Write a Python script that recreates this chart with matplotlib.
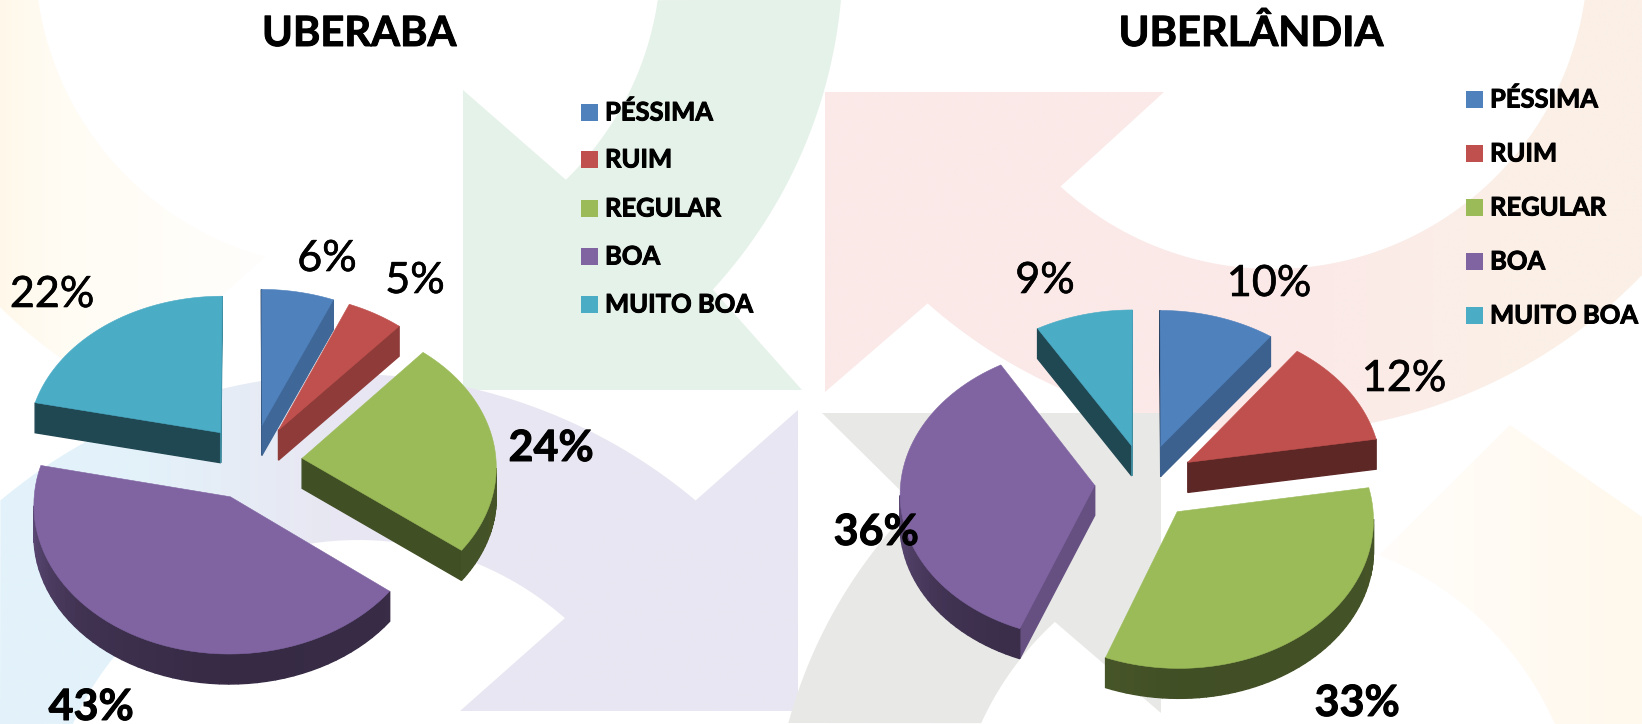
import numpy as np
import matplotlib
matplotlib.use('Agg')
import matplotlib.pyplot as plt
import matplotlib.patheffects as pe
from matplotlib.patches import Polygon, Rectangle
from matplotlib.colors import to_rgb

plt.rcParams['font.family'] = ['Lato', 'DejaVu Sans']

# data, the slices are a little finer than the rounded labels
categories = ['PÉSSIMA', 'RUIM', 'REGULAR', 'BOA', 'MUITO BOA']
uberaba = [6.4, 5.0, 24.1, 42.9, 21.6]
uberlandia = [10.2, 12.2, 33.4, 35.6, 8.6]
colors = ['#4f81bd', '#c0504d', '#9bbb59', '#8064a2', '#4bacc6']

# pie geometry, pixels of the 1642x724 image
RX = 194
RY = 146
PERSP = 0.049
EXPLODE = 0.26
DEPTH = 30

fig = plt.figure(figsize=(16.42, 7.24), dpi=100)
ax = fig.add_axes([0, 0, 1, 1])
heavy = [pe.withStroke(linewidth=0.7, foreground='black')]
medium = [pe.withStroke(linewidth=0.45, foreground='black')]


def ring(cx, cy, r, p0, p1, n=80):
    # circle arc between the angles of two points near the circle
    a0 = np.arctan2(p0[1] - cy, p0[0] - cx)
    a1 = np.arctan2(p1[1] - cy, p1[0] - cx)
    if a1 - a0 > np.pi:
        a1 -= 2 * np.pi
    if a0 - a1 > np.pi:
        a1 += 2 * np.pi
    t = np.linspace(a0, a1, n)
    return list(zip(cx + r * np.cos(t), cy + r * np.sin(t)))


def flat(verts, color):
    ax.add_patch(Polygon(verts, closed=True, fc=color, ec='none', zorder=0.5))


def gradient(verts, xs, cols):
    # horizontal colour ramp clipped to a polygon
    verts = np.array(verts)
    x0, x1 = verts[:, 0].min(), verts[:, 0].max()
    y0, y1 = verts[:, 1].min(), verts[:, 1].max()
    grid = np.linspace(x0, x1, 300)
    rgb = np.array([to_rgb(c) for c in cols])
    img = np.stack([np.interp(grid, xs, rgb[:, i]) for i in range(3)], axis=1)[None, :, :]
    im = ax.imshow(img, extent=(x0, x1, y1, y0), aspect='auto', zorder=0.5, interpolation='bilinear')
    im.set_clip_path(Polygon(verts, closed=True, transform=ax.transData))


def background():
    # green
    flat([(463, 90)]
         + ring(348, -45, 313, (568, 182), (657, 0))
         + ring(348, -45, 495, (843, 0), (710, 287))
         + [(802, 390), (463, 390)], '#e5f2e9')
    # pink to orange band
    band = ([(825, 92), (1164, 92)]
            + ring(1273, -46, 315, (1061, 186), (1585, 0))
            + [(1642, 0)]
            + ring(1270, -84, 517, (1642, 273), (928, 303))
            + [(825, 392)])
    gradient(band, [825, 1300, 1500, 1642], ['#fbe9e8', '#fbe9e8', '#fbefe7', '#fbf0e6'])
    # lavender with the blue left end
    lav = (ring(348, 915, 541, (0, 500), (696, 500))
           + [(798, 410), (798, 711), (460, 711)]
           + ring(358, 853, 313, (565, 618), (73, 724))
           + [(0, 724)])
    gradient(lav, [0, 130, 330, 798], ['#e3f2fa', '#e3f2fa', '#e8e7f2', '#e8e6f2'])
    # grey
    flat([(822, 413), (1161, 413), (1161, 713)]
         + ring(1266, 853, 313, (1055, 622), (983, 724))
         + ring(1266, 853, 495, (792, 724), (915, 505)), '#e8e8e6')
    # faint orange, top left and bottom right
    tl = (ring(348, -45, 313, (38, 0), (265, 257))
          + ring(348, -45, 495, (115, 390), (0, 305))
          + [(0, 0)])
    gradient(tl, [0, 60, 265], ['#fff8ea', '#fffcf4', '#fffefc'])
    br = ([(1510, 425), (1642, 517), (1642, 724)]
          + ring(1262, 853, 320, (1570, 724), (1380, 553)))
    gradient(br, [1380, 1642], ['#fffdfa', '#fff8ec'])


def project(u, v, cx, cy):
    k = 1 + PERSP * v
    return cx + RX * u / k, cy - RY * v / k


def shade(color, s):
    return tuple(np.array(to_rgb(color)) * s)


def radial_shade(phi):
    return np.interp(phi, [-90, -5, 10, 20, 40, 60, 90], [0.42, 0.42, 0.5, 0.52, 0.74, 0.8, 0.8])


def arc_shade(phi):
    return np.interp(phi, [-90, -40, 0, 90], [0.72, 0.5, 0.42, 0.45])


def side_quad(p, q, color, shader):
    # p -> q runs clockwise round the slice, so the outward normal is (dy, -dx)
    nx, ny = q[1] - p[1], p[0] - q[0]
    if ny <= 0:
        return
    phi = np.degrees(np.arctan2(nx, ny))
    c = shade(color, shader(phi))
    ax.add_patch(Polygon([p, q, (q[0], q[1] + DEPTH), (p[0], p[1] + DEPTH)], closed=True,
                         fc=c, ec=c, lw=1.0, zorder=1))


def draw_pie(values, cx, cy):
    total = sum(values)
    edges = np.cumsum([0] + list(values)) / total * 2 * np.pi
    slices = []
    for i in range(len(values)):
        mid = (edges[i] + edges[i + 1]) / 2
        slices.append((EXPLODE * np.cos(mid), i, mid))
    # back to front
    slices.sort(key=lambda s: -s[0])
    for ov, i, mid in slices:
        ou = EXPLODE * np.sin(mid)
        t = np.linspace(edges[i], edges[i + 1], 60)
        x, y = project(ou + np.sin(t), ov + np.cos(t), cx, cy)
        apex = project(ou, ov, cx, cy)
        arc = list(zip(x, y))
        side_quad(apex, arc[0], colors[i], radial_shade)
        side_quad(arc[-1], apex, colors[i], radial_shade)
        for a, b in zip(arc[:-1], arc[1:]):
            side_quad(a, b, colors[i], arc_shade)
        ax.add_patch(Polygon([apex] + arc, closed=True, fc=colors[i], ec=colors[i], lw=0.4, zorder=1))


def draw_legend(x, ys):
    for i, name in enumerate(categories):
        ax.add_patch(Rectangle((x, ys[i] - 8.5), 17, 17, fc=colors[i], ec='none', zorder=2))
        ax.text(x + 24, ys[i] + 8.5, name, fontsize=18.4, fontweight='bold', color='black',
                ha='left', va='baseline', zorder=3, path_effects=heavy)


background()
draw_pie(uberaba, 252, 462)
draw_pie(uberlandia, 1145, 482)

ax.text(343 * 1.047, 46, 'UBERABA', fontsize=30, fontweight='bold', ha='center', va='baseline', path_effects=heavy)
ax.text(1251, 46, 'UBERLÂNDIA', fontsize=30, fontweight='bold', ha='center', va='baseline', path_effects=heavy)

draw_legend(581, [112, 159, 208, 256, 304])
draw_legend(1466, [99, 153, 207, 261, 315])

left_pos = [(327, 271), (415, 293), (551, 461), (91, 720), (52, 307)]
right_pos = [(1269, 296), (1404, 391), (1357, 716), (876, 545), (1045, 293)]
for vals, pos in ((uberaba, left_pos), (uberlandia, right_pos)):
    for v, (x, y) in zip(vals, pos):
        if v >= 24:
            ax.text(x, y, f'{v:.0f}%', fontsize=31, fontweight='bold', ha='center', va='baseline',
                    zorder=3, path_effects=heavy)
        else:
            ax.text(x, y, f'{v:.0f}%', fontsize=31, ha='center', va='baseline', zorder=3, path_effects=medium)

ax.set_xlim(0, 1642)
ax.set_ylim(724, 0)
ax.axis('off')
fig.savefig('out.png', dpi=100, facecolor='white')
